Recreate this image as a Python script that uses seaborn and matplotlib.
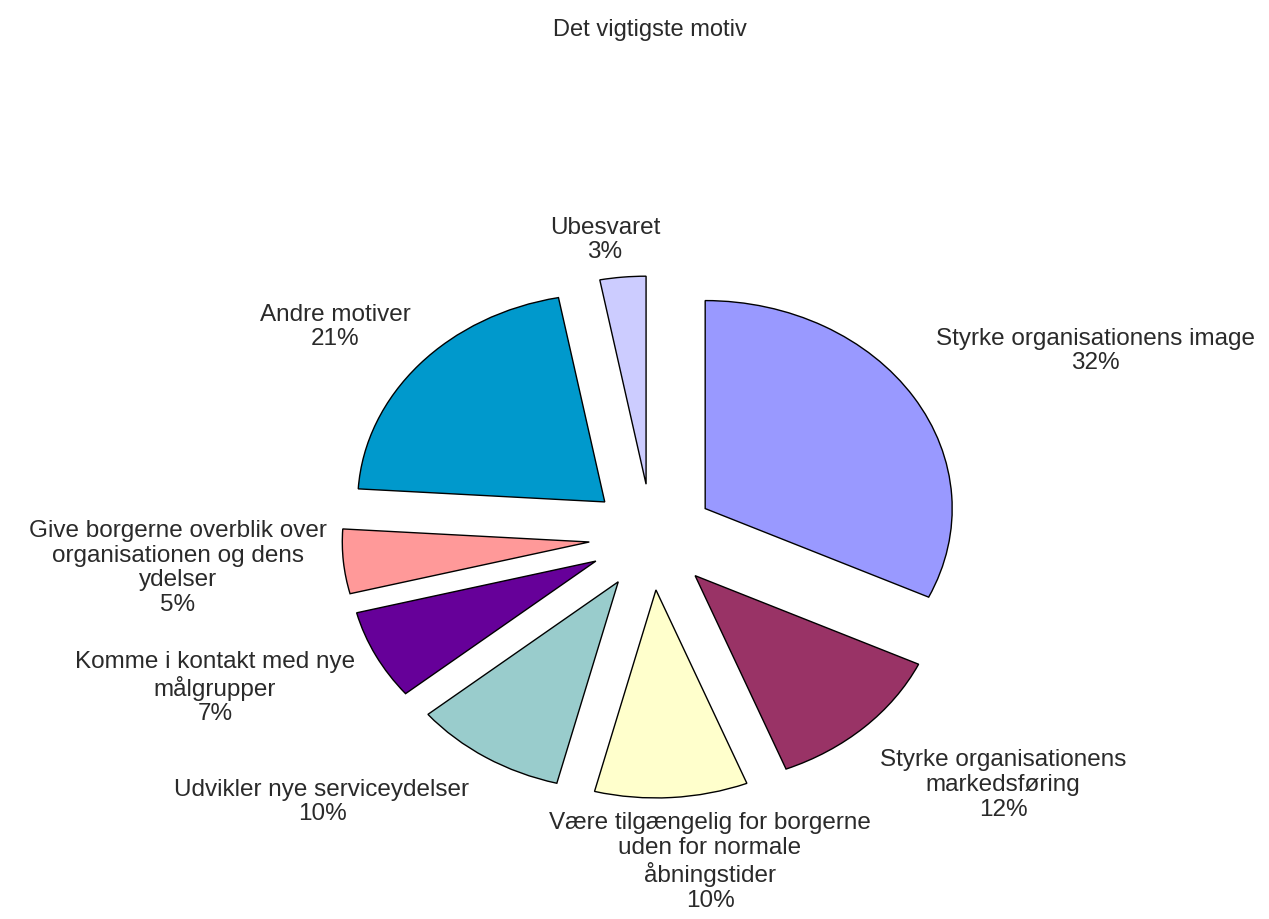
import matplotlib
matplotlib.use("Agg")
import matplotlib.pyplot as plt
import seaborn as sns

# ---- data ----
categories = [
    "Styrke organisationens image",
    "Styrke organisationens\nmarkedsføring",
    "Være tilgængelig for borgerne\nuden for normale\nåbningstider",
    "Udvikler nye serviceydelser",
    "Komme i kontakt med nye\nmålgrupper",
    "Give borgerne overblik over\norganisationen og dens\nydelser",
    "Andre motiver",
    "Ubesvaret",
]
values = [32, 12, 10, 10, 7, 5, 21, 3]
title = "Det vigtigste motiv"

# ---- style ----
colors = ["#9999FF", "#993366", "#FFFFCC", "#99CCCC",
          "#660099", "#FF9999", "#0099CC", "#CCCCFF"]
# label block centres in pixel coords (x from left, y from top)
label_pos = [(1095, 351), (1003, 785), (710, 862), (322, 802),
             (215, 688), (178, 568), (335, 327), (605, 240)]

sns.set_theme(style="white")
plt.rcParams["font.family"] = ["Liberation Sans", "DejaVu Sans"]

W, H = 1269, 920
fig = plt.figure(figsize=(W / 100, H / 100), dpi=100)
ax = fig.add_axes([0, 0, 1, 1])

cx, cy = 652, 538     # pie centre in pixels
rx, ry = 247, 208     # radii in pixels (horizontal, vertical)

ax.pie(values, colors=colors, startangle=90, counterclock=False,
       explode=[0.255] * len(values),
       wedgeprops=dict(edgecolor="black", linewidth=1.0))
ax.set_aspect("auto")
ax.set_xlim(-cx / rx, (W - cx) / rx)
ax.set_ylim(-(H - cy) / ry, cy / ry)
ax.axis("off")

for cat, v, (px, py) in zip(categories, values, label_pos):
    txt = f"{cat}\n{v}%"
    fig.text(px / W, 1 - py / H, txt, ha="center", va="center",
             multialignment="center",
             fontsize=17.5, color="#2a2a2a", linespacing=1.15)

fig.text(650 / W, 1 - 30 / H, title, ha="center", va="center",
         fontsize=17, color="#2a2a2a")

fig.savefig("out.png", dpi=100)
